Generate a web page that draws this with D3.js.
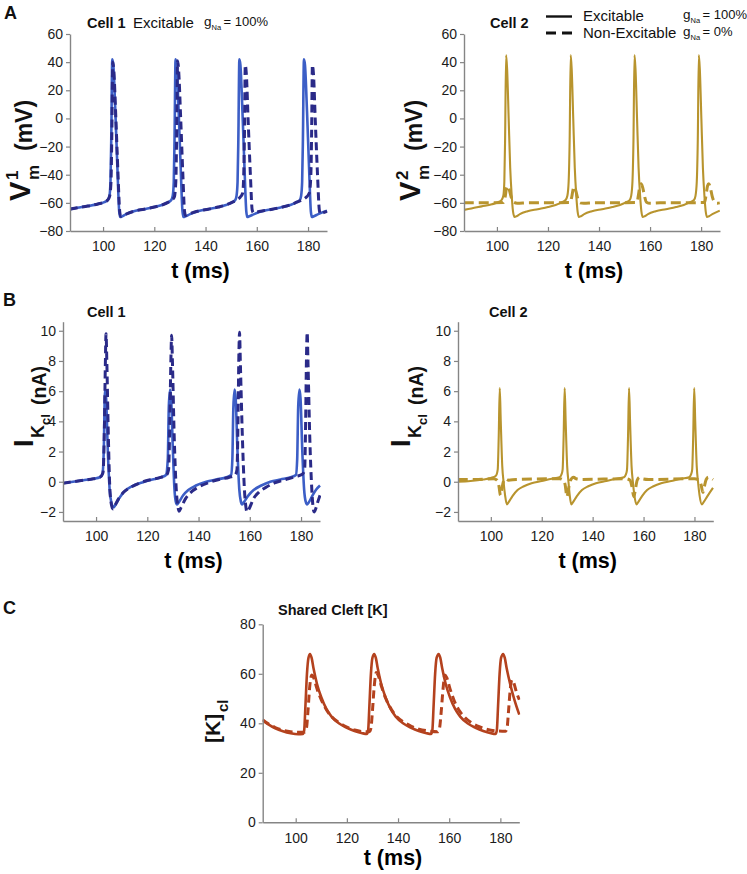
<!DOCTYPE html>
<html>
<head>
<meta charset="utf-8">
<script src="https://cdn.jsdelivr.net/npm/d3@7"></script>
<style>
  html, body { margin: 0; padding: 0; background: #fff; }
  svg { display: block; font-family: "Liberation Sans", Arial, Helvetica, sans-serif; }
</style>
</head>
<body>
<svg id="fig" width="747" height="874"></svg>
<script>
/* ---------------------------------------------------------------------
   Data: [t (ms), value]
   --------------------------------------------------------------------- */

// Panel A, cell 1 membrane potential (mV)
const v1Excit = [[87,-64.5],[90,-63.5],[94,-62.3],[98,-60.8],[100.5,-59.5],[101.8,-58],[102.5,-55],[102.9,-45],[103.2,-15],[103.6,42],[104.0,38],[104.8,5],[105.6,-35],[106.3,-66],[106.7,-70],[107.5,-69.5],[109,-68],[112,-66],[116,-64.5],[120,-63],[123,-61.5],[125.5,-59.5],[126.6,-58],[127.2,-55],[127.6,-45],[127.9,-15],[128.3,42],[128.7,38],[129.5,5],[130.3,-35],[131.0,-66],[131.4,-70],[132.2,-69.5],[134,-68],[137,-66],[141,-64.5],[145,-63],[148,-61.5],[150.5,-59.5],[151.6,-58],[152.1,-55],[152.5,-45],[152.8,-15],[153.2,42],[153.6,38],[154.4,5],[155.2,-35],[155.9,-66],[156.3,-70],[157.1,-69.5],[159,-68],[162,-66],[166,-64.5],[170,-63],[173,-61.5],[175.6,-59.5],[176.8,-58],[177.3,-55],[177.7,-45],[178.0,-15],[178.4,42],[178.8,38],[179.6,5],[180.4,-35],[181.1,-66],[181.5,-70],[182.3,-69.5],[184,-68],[186,-66.5],[187.4,-65.5]];
const v1NonExc = [[87,-64.5],[90,-63.5],[94,-62.3],[98,-60.8],[100.5,-59.5],[101.8,-58],[102.6,-55],[103.1,-45],[103.4,-15],[103.8,40],[104.2,34],[105,0],[105.8,-38],[106.5,-66],[106.9,-69.5],[107.7,-69],[109,-68],[112,-66],[116,-64.5],[120,-63],[123,-61.5],[125.5,-59.5],[126.8,-58],[127.8,-56],[128.4,-45],[128.7,-15],[129.1,41],[129.5,34],[130.3,0],[131.1,-38],[131.8,-66],[132.2,-69],[133,-68.5],[135,-67],[138,-65.5],[141,-64.5],[145,-63],[148,-61.5],[150.5,-59.5],[152,-58],[153.5,-56],[154.5,-53],[154.9,-40],[155.2,-10],[155.5,38],[155.9,32],[156.7,-5],[157.5,-40],[158.2,-65],[158.7,-67],[160,-66.5],[163,-65.5],[166,-64.5],[170,-63],[173,-61.5],[175.6,-59.5],[177.5,-58],[179,-56.5],[180.5,-53],[181.1,-40],[181.4,-10],[181.7,38],[182.1,32],[182.9,-5],[183.7,-40],[184.4,-65],[184.9,-68],[186,-67],[187.4,-66]];

// Panel A, cell 2 membrane potential (mV)
const v2Excit = [[87,-65],[90,-64],[94,-62.5],[98,-61],[100.5,-59.5],[101.8,-58],[102.5,-55],[102.9,-45],[103.2,-15],[103.6,45],[104.0,35],[104.6,0],[105.2,-35],[105.8,-55],[106.3,-66],[106.9,-70],[107.7,-69.5],[109,-68],[112,-66],[116,-64.5],[120,-63],[123,-61.5],[125.5,-59.5],[126.9,-58],[127.6,-55],[128.1,-45],[128.5,-15],[128.9,45],[129.3,35],[129.9,0],[130.5,-35],[131.1,-55],[131.6,-66],[132.1,-70],[132.9,-69.5],[134.2,-68],[137.2,-66],[141.2,-64.5],[145.2,-63],[148.2,-61.5],[150.7,-59.5],[152,-58],[152.6,-55],[153.1,-45],[153.5,-15],[153.9,45],[154.3,35],[154.9,0],[155.5,-35],[156.1,-55],[156.6,-66],[157.1,-70],[157.9,-69.5],[159.2,-68],[162.2,-66],[166.2,-64.5],[170.2,-63],[173.2,-61.5],[175.7,-59.5],[177.2,-58],[177.8,-55],[178.3,-45],[178.7,-15],[179.1,45],[179.5,35],[180.1,0],[180.7,-35],[181.3,-55],[181.8,-66],[182.3,-70],[183.1,-69.5],[184.4,-68],[187.3,-65.5]];
const v2NonExc = [[87,-60],[95,-60],[102.5,-59.8],[103.2,-56],[103.8,-49],[104.3,-48],[104.9,-51],[105.6,-56],[106.5,-59.5],[108,-60.3],[112,-60],[128.6,-59.8],[129.3,-56],[129.9,-50],[130.4,-48.5],[131,-52],[131.7,-57],[132.6,-60],[134,-60.3],[138,-60],[154.8,-59.8],[155.4,-55],[156,-48],[156.5,-46.5],[157.1,-49],[157.8,-55],[158.6,-59.5],[160,-60.3],[164,-60],[181.3,-59.8],[181.9,-55],[182.5,-48],[183,-46.5],[183.6,-49],[184.3,-55],[185.1,-59],[186.3,-60.2],[187.3,-60]];

// Panel B, cleft K current (nA)
const ik1Excit = [[87,-0.1],[91,0],[95,0.1],[99,0.2],[101.5,0.3],[102.5,0.5],[103,2],[103.5,6.1],[103.9,5.6],[104.6,2],[105.3,-0.5],[106,-1.4],[106.8,-1.7],[107.5,-1.55],[109,-1.1],[111,-0.65],[114,-0.3],[118,-0.05],[122,0.15],[125.5,0.3],[127.3,0.45],[128,1.5],[128.4,5],[128.9,6.1],[129.3,5.5],[130,2],[130.6,-0.5],[131.1,-1.3],[131.6,-1.5],[132.3,-1.35],[134,-0.9],[136,-0.55],[139,-0.25],[143,0],[147,0.15],[151,0.3],[152.7,0.45],[153.2,1.5],[153.6,5],[154.1,6.1],[154.5,5.5],[155.2,2],[155.9,-0.5],[156.5,-1.3],[157,-1.5],[157.7,-1.35],[159.5,-0.9],[161.5,-0.55],[164.5,-0.25],[168,0],[172,0.15],[176,0.3],[178,0.45],[178.5,1.5],[178.9,5],[179.4,6.1],[179.8,5.5],[180.5,2],[181.2,-0.5],[181.8,-1.3],[182.4,-1.5],[183.1,-1.35],[184.5,-0.9],[186,-0.5],[187.4,-0.25]];
const ik1NonExc = [[87,-0.1],[91,0],[95,0.1],[99,0.2],[101.5,0.3],[102.7,0.6],[103.2,3],[103.6,7.5],[103.9,9.8],[104.2,8],[104.8,3],[105.4,-0.5],[106.1,-1.6],[106.6,-1.8],[107.3,-1.6],[108.7,-1.15],[110.7,-0.7],[113.7,-0.35],[117.5,-0.05],[121.5,0.15],[125.5,0.3],[127.5,0.45],[128.3,0.8],[128.8,4],[129.2,8],[129.5,9.7],[129.8,8],[130.5,3],[131.3,-0.5],[132,-1.7],[132.4,-1.95],[133.2,-1.7],[135,-1.1],[137,-0.7],[140,-0.35],[144,-0.05],[148,0.15],[152,0.3],[154.3,0.45],[155,0.8],[155.4,4],[155.7,8],[156,9.9],[156.3,8],[157.1,3],[157.9,-0.5],[158.5,-1.7],[158.9,-2.0],[159.7,-1.8],[161.5,-1.1],[163.5,-0.7],[166.5,-0.35],[170,-0.05],[174,0.15],[178,0.35],[180.5,0.5],[181.4,0.8],[181.8,4],[182.1,8],[182.4,9.9],[182.7,8],[183.4,3],[184.2,-0.5],[184.7,-1.7],[185.1,-2.0],[185.8,-1.75],[186.6,-1.3],[187.4,-0.9]];
const ik2Excit = [[87,0],[92,0.05],[97,0.15],[100,0.25],[102,0.4],[102.7,0.8],[103.1,3],[103.5,6.2],[103.9,4],[104.5,1],[105,0],[105.6,-0.9],[106.3,-1.5],[107,-1.35],[108.5,-0.95],[110.5,-0.55],[113,-0.3],[116,-0.1],[120,0.05],[124,0.2],[127,0.3],[127.8,0.5],[128.2,0.8],[128.6,3],[129,6.2],[129.4,4],[130,1],[130.5,0],[131,-0.9],[131.6,-1.5],[132.3,-1.35],[133.8,-0.95],[135.8,-0.55],[138.3,-0.3],[141.3,-0.1],[145.3,0.05],[149.3,0.2],[152.3,0.3],[153.1,0.5],[153.5,0.8],[153.9,3],[154.3,6.2],[154.7,4],[155.3,1],[155.8,0],[156.4,-0.9],[157.2,-1.5],[157.9,-1.35],[159.4,-0.95],[161.4,-0.55],[163.9,-0.3],[166.9,-0.1],[170.9,0.05],[174.9,0.2],[177.9,0.3],[178.7,0.5],[179.1,0.8],[179.5,3],[179.9,6.2],[180.3,4],[180.9,1],[181.4,0],[182,-0.9],[182.9,-1.5],[183.6,-1.35],[185.1,-0.95],[187.3,-0.4]];
const ik2NonExc = [[87,0.15],[95,0.15],[101,0.2],[102.5,0.1],[103.1,-0.2],[103.8,-0.9],[104.3,-0.5],[105,0.05],[105.6,0.2],[107,0.1],[110,0.15],[127,0.2],[128.5,0.1],[129.2,-0.2],[129.9,-1.0],[130.5,-0.5],[131.3,0.1],[132.5,0.3],[133.5,0.2],[136,0.15],[153,0.2],[154.7,0.1],[155.4,-0.3],[156.2,-1.0],[156.8,-0.5],[157.5,0.1],[158.5,0.3],[159.5,0.2],[162,0.15],[180,0.2],[181.8,0.1],[182.6,-0.2],[183.3,-0.7],[183.9,-0.3],[184.6,0.15],[185.5,0.3],[187.3,0.15]];

// Panel C, shared cleft [K] (mM)
const kcExcit = [[87,41.3],[89,39.8],[92,38],[95,36.8],[98,36],[101,35.6],[102.8,35.7],[103.3,37],[103.8,47],[104.4,60],[105,66.5],[105.6,68],[106.2,66.5],[107,62],[108.3,56],[110,50.5],[112,45.8],[114,42.7],[117,39.9],[120,38.2],[123,36.9],[126,36],[127.8,35.7],[128.3,37],[128.8,47],[129.4,60],[130,66.5],[130.7,68],[131.3,66.5],[132.1,62],[133.4,56],[135.1,50.5],[137.1,45.8],[139.1,42.7],[142.1,39.9],[145.1,38.2],[148.1,36.9],[151.1,36],[152.9,35.7],[153.4,37],[153.9,47],[154.5,60],[155.1,66.5],[155.9,68],[156.5,66.5],[157.3,62],[158.6,56],[160.3,50.5],[162.3,45.8],[164.3,42.7],[167.3,39.9],[170.3,38.2],[173.3,36.9],[176.3,36],[178.1,35.7],[178.6,37],[179.1,47],[179.7,60],[180.3,66.5],[181.1,68],[181.7,66.5],[182.5,62],[183.8,56],[185.5,49.5],[187.4,43.5]];
const kcNonExc = [[87,41.5],[89,40],[92,38.3],[95,37.2],[98,36.6],[101,36.4],[103.5,36.5],[104.2,38],[104.8,45],[105.5,55],[106.3,59.5],[107,58.5],[108.3,54],[110,49.5],[112,45.5],[114,42.7],[117,40.2],[120,38.5],[123,37.3],[126,36.7],[128.8,36.6],[129.4,38],[130,45],[130.7,55],[131.5,60.5],[132.2,59.5],[133.5,55],[135.2,50],[137.2,46],[139.2,43],[142.2,40.5],[145.2,38.8],[148.2,37.6],[151.2,37],[155.5,36.6],[156.2,38],[156.9,45],[157.6,54],[158.3,59.5],[159,58.5],[160.3,54],[162,49],[164,45],[166,42.5],[169,40],[172,38.5],[175,37.5],[178,37],[182.0,36.8],[182.6,38],[183.2,45],[183.8,53],[184.5,57.5],[185.2,56.5],[186.3,52.5],[187.4,49.5]];

// Axes
const tDomain = [87.1, 187.4];
const tTicks = [100, 120, 140, 160, 180];
const vTicks = [-80, -60, -40, -20, 0, 20, 40, 60];
const iTicks = [-2, 0, 2, 4, 6, 8, 10];
const kTicks = [0, 20, 40, 60, 80];

/* --------------------------------------------------------------------- */

const FONT = '"Liberation Sans", Arial, Helvetica, sans-serif';
const AXIS = '#858585';
const BLUE = '#3c5ec6', NAVY = '#2a2a88', GOLD = '#b8942e', RUST = '#b4421e';

const svg = d3.select('#fig');
let clipN = 0;

function panel(p) {
  const x = d3.scaleLinear().domain(tDomain).range([p.x0, p.x1]);
  const y = d3.scaleLinear().domain(p.yDomain).range([p.y1, p.y0]);
  const g = svg.append('g');

  const clipId = 'clip' + (clipN++);
  svg.append('clipPath').attr('id', clipId)
    .append('rect')
    .attr('x', p.x0).attr('y', p.y0 - 2)
    .attr('width', p.x1 - p.x0 + 1).attr('height', p.y1 - p.y0 + 2);

  const line = d3.line()
    .x(d => x(d[0]))
    .y(d => y(d[1]))
    .curve(d3.curveMonotoneX);

  const traces = g.append('g').attr('clip-path', `url(#${clipId})`);
  p.series.forEach(s => {
    traces.append('path')
      .datum(s.data)
      .attr('fill', 'none')
      .attr('stroke', s.color)
      .attr('stroke-width', s.width)
      .attr('stroke-dasharray', s.dash || null)
      .attr('stroke-linejoin', 'round')
      .attr('d', line);
  });

  // axes
  const ax = g.append('g')
    .attr('transform', `translate(0,${p.y1})`)
    .call(d3.axisBottom(x).tickValues(tTicks).tickSize(-4).tickSizeOuter(0));
  ax.selectAll('.tick text').attr('y', 10.5);

  const ay = g.append('g')
    .attr('transform', `translate(${p.x0},0)`)
    .call(d3.axisLeft(y).tickValues(p.yTicks).tickSize(4).tickSizeOuter(0).tickPadding(3));

  [ax, ay].forEach(a => {
    a.select('.domain').attr('stroke', AXIS).attr('stroke-width', 1.4);
    a.selectAll('.tick line').attr('stroke', AXIS).attr('stroke-width', 1.2);
    a.selectAll('.tick text')
      .attr('fill', '#1b1b1b')
      .style('font-size', '14px')
      .style('font-family', FONT);
  });

  // x label
  g.append('text')
    .attr('x', (p.x0 + p.x1) / 2 + 2)
    .attr('y', p.xLabelY)
    .attr('text-anchor', 'middle')
    .style('font-size', '21.5px')
    .style('font-weight', 'bold')
    .text('t (ms)');

  return g;
}

// rotated y label built from pieces: [text, localX, localY, size]
function yLabel(x, yBottom, parts) {
  const g = svg.append('g')
    .attr('transform', `translate(${x},${yBottom}) rotate(-90)`)
    .style('font-weight', 'bold')
    .attr('fill', '#111');
  parts.forEach(([t, lx, ly, fs]) => {
    g.append('text').attr('x', lx).attr('y', ly)
      .style('font-size', fs + 'px').text(t);
  });
}

function label(x, y, t, fs, bold) {
  return svg.append('text')
    .attr('x', x).attr('y', y)
    .style('font-size', fs + 'px')
    .style('font-weight', bold ? 'bold' : 'normal')
    .attr('fill', '#111')
    .text(t);
}

function gNa(x, y, pct) {
  label(x, y, 'g', 13.5);
  label(x + 7.5, y + 4, 'Na', 7.5);
  label(x + 19.5, y, '= ' + pct, 13);
}

const vmParts = n => [['V', 0, -2, 29], [n, 21, -14, 17], ['m', 21, 7, 17], ['(mV)', 50, 0, 23]];
const ikParts = [['I', 0, -13, 27], ['K', 9, -2, 18], ['cl', 22, 4, 13], ['(nA)', 42, 0, 19.5]];

/* ---------------- Panel A ---------------- */
panel({
  x0: 70, x1: 327, y0: 34, y1: 231, yDomain: [-80, 60], yTicks: vTicks, xLabelY: 278,
  series: [
    { data: v1Excit, color: BLUE, width: 2.6 },
    { data: v1NonExc, color: NAVY, width: 3, dash: '8,4.5' }
  ]
});
panel({
  x0: 464, x1: 720, y0: 34, y1: 231, yDomain: [-80, 60], yTicks: vTicks, xLabelY: 278,
  series: [
    { data: v2Excit, color: GOLD, width: 2.1 },
    { data: v2NonExc, color: GOLD, width: 3, dash: '10,5' }
  ]
});
label(4, 19, 'A', 18, true);
label(87, 28, 'Cell 1', 14.5, true);
label(133, 28, 'Excitable', 15);
gNa(204, 26, '100%');
label(490, 28, 'Cell 2', 14.5, true);

// legend
svg.append('line').attr('x1', 546).attr('x2', 572).attr('y1', 16.5).attr('y2', 16.5)
  .attr('stroke', '#111').attr('stroke-width', 2.4);
svg.append('line').attr('x1', 546).attr('x2', 572).attr('y1', 33).attr('y2', 33)
  .attr('stroke', '#111').attr('stroke-width', 3).attr('stroke-dasharray', '10,6');
label(583, 21, 'Excitable', 15);
label(583, 38, 'Non-Excitable', 15);
gNa(683, 19, '100%');
gNa(683, 36, '0%');

yLabel(32, 201, vmParts('1'));
yLabel(422, 201, vmParts('2'));

/* ---------------- Panel B ---------------- */
panel({
  x0: 63, x1: 320, y0: 321.7, y1: 521, yDomain: [-2.6, 10.6], yTicks: iTicks, xLabelY: 568,
  series: [
    { data: ik1Excit, color: BLUE, width: 2.6 },
    { data: ik1NonExc, color: NAVY, width: 3, dash: '8,4.5' }
  ]
});
panel({
  x0: 458, x1: 713.3, y0: 321.7, y1: 521, yDomain: [-2.6, 10.6], yTicks: iTicks, xLabelY: 568,
  series: [
    { data: ik2Excit, color: GOLD, width: 2.1 },
    { data: ik2NonExc, color: GOLD, width: 3, dash: '10,5' }
  ]
});
label(3, 306, 'B', 18, true);
label(87, 317, 'Cell 1', 14.5, true);
label(489, 317, 'Cell 2', 14.5, true);
yLabel(46, 447, ikParts);
yLabel(423, 447, ikParts);

/* ---------------- Panel C ---------------- */
panel({
  x0: 262.7, x1: 519.3, y0: 624.3, y1: 822.3, yDomain: [0, 80], yTicks: kTicks, xLabelY: 865,
  series: [
    { data: kcExcit, color: RUST, width: 2.6 },
    { data: kcNonExc, color: RUST, width: 3, dash: '8,4.5' }
  ]
});
label(3, 614, 'C', 18, true);
label(278, 615, 'Shared Cleft [K]', 14.5, true);
yLabel(220, 743, [['[K]', 0, 0, 21], ['cl', 31, 8, 15]]);
</script>
</body>
</html>
